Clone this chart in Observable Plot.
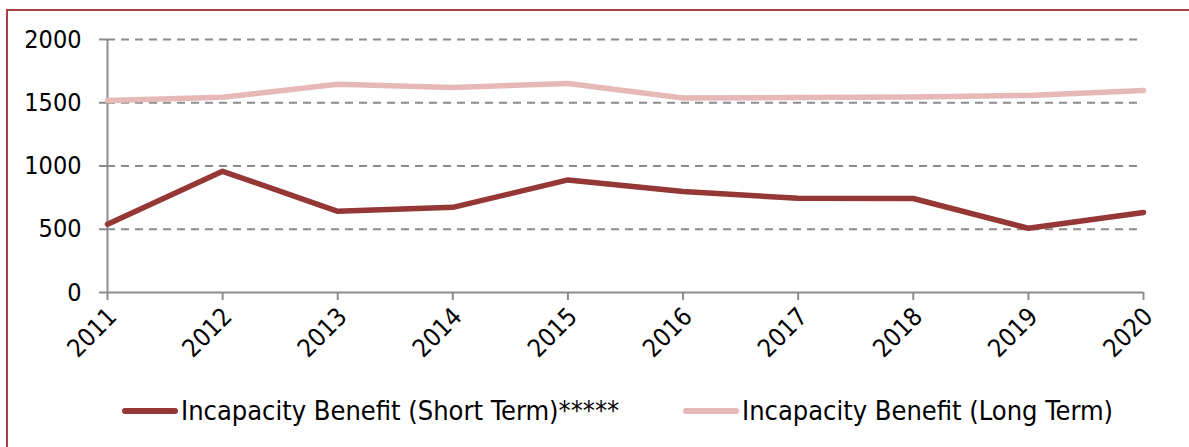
<!DOCTYPE html>
<html>
<head>
<meta charset="utf-8">
<script src="https://cdn.jsdelivr.net/npm/d3@7"></script>
<script src="https://cdn.jsdelivr.net/npm/@observablehq/plot@0.6"></script>
<style>
  html, body { margin: 0; padding: 0; background: #fff; overflow: hidden; }
  body { width: 1189px; height: 447px; position: relative; font-family: "DejaVu Sans Condensed", "Noto Sans", sans-serif; }
  #frame { position: absolute; left: 6px; top: 9px; width: 2000px; height: 1000px;
           border-left: 2px solid #a3423f; border-top: 2px solid #a3423f; }
  #chart { position: absolute; left: 0; top: 0; }
  .legend-item { position: absolute; top: 395px; display: flex; align-items: center; font-size: 27px; color: #000; white-space: nowrap; }
  .legend-item svg { margin-right: 3px; }
</style>
</head>
<body>
<div id="frame"></div>
<div id="chart"></div>
<div id="legend"></div>
<script>
const years = [2011, 2012, 2013, 2014, 2015, 2016, 2017, 2018, 2019, 2020];
const shortTerm = [540, 958, 642, 673, 890, 798, 745, 743, 508, 632];
const longTerm = [1517, 1543, 1647, 1621, 1652, 1538, 1541, 1545, 1558, 1597];
const yTicks = [0, 500, 1000, 1500, 2000];
const seriesNames = ["Incapacity Benefit (Short Term)*****", "Incapacity Benefit (Long Term)"];
const seriesColors = ["#953735", "#e6b9b8"];

const data = [];
years.forEach((yr, i) => {
  data.push({year: yr, value: shortTerm[i], series: seriesNames[0]});
  data.push({year: yr, value: longTerm[i], series: seriesNames[1]});
});

const axisColor = "#8c8c8c";
const font = '"DejaVu Sans Condensed", "Noto Sans", sans-serif';

const plot = Plot.plot({
  width: 1189,
  height: 380,
  marginLeft: 107,
  marginRight: 46,
  marginTop: 39,
  marginBottom: 88,
  style: {fontFamily: font, fontSize: "25px", color: "#000", background: "transparent", overflow: "visible"},
  x: {domain: [years[0], years[years.length - 1]]},
  y: {domain: [yTicks[0], yTicks[yTicks.length - 1]]},
  color: {domain: seriesNames, range: seriesColors},
  marks: [
    Plot.gridY(yTicks.slice(1), {stroke: axisColor, strokeOpacity: 1, strokeWidth: 2, strokeDasharray: "8,6"}),
    Plot.ruleY([yTicks[0]], {stroke: axisColor, strokeWidth: 2}),
    Plot.ruleX([years[0]], {y1: yTicks[0], y2: yTicks[yTicks.length - 1], stroke: axisColor, strokeWidth: 2}),
    Plot.axisY(yTicks, {tickSize: 8, tickPadding: 18, stroke: axisColor, strokeWidth: 2, label: null, fill: "#000", fontSize: 25, tickFormat: d => String(d)}),
    Plot.axisX(years, {tickSize: 8, tickPadding: 4, tickRotate: -45, tickFormat: d => String(d), stroke: axisColor, strokeWidth: 2, label: null}),
    Plot.axisX(years, {tickSize: 0, tickPadding: 20, dx: 5, tickRotate: -45, tickFormat: d => String(d), label: null, fill: "#000", fontSize: 25, stroke: null}),
    Plot.line(data, {x: "year", y: "value", z: "series", stroke: "series", strokeWidth: 5.5, strokeLinecap: "round", strokeLinejoin: "round"})
  ].filter((m, i) => true)
});
// remove the duplicate tick labels from the first x axis (ticks only)
document.getElementById("chart").appendChild(plot);
const axes = plot.querySelectorAll('g[aria-label="x-axis tick label"]');
if (axes.length > 1) axes[0].remove();

// legend
const legend = document.getElementById("legend");
const legendLefts = [122, 683];
seriesNames.forEach((name, i) => {
  const item = document.createElement("div");
  item.className = "legend-item";
  item.style.left = legendLefts[i] + "px";
  item.innerHTML = `<svg width="56" height="10"><line x1="3" y1="5" x2="53" y2="5" stroke="${seriesColors[i]}" stroke-width="6" stroke-linecap="round"/></svg><span>${name}</span>`;
  legend.appendChild(item);
});
</script>
</body>
</html>
